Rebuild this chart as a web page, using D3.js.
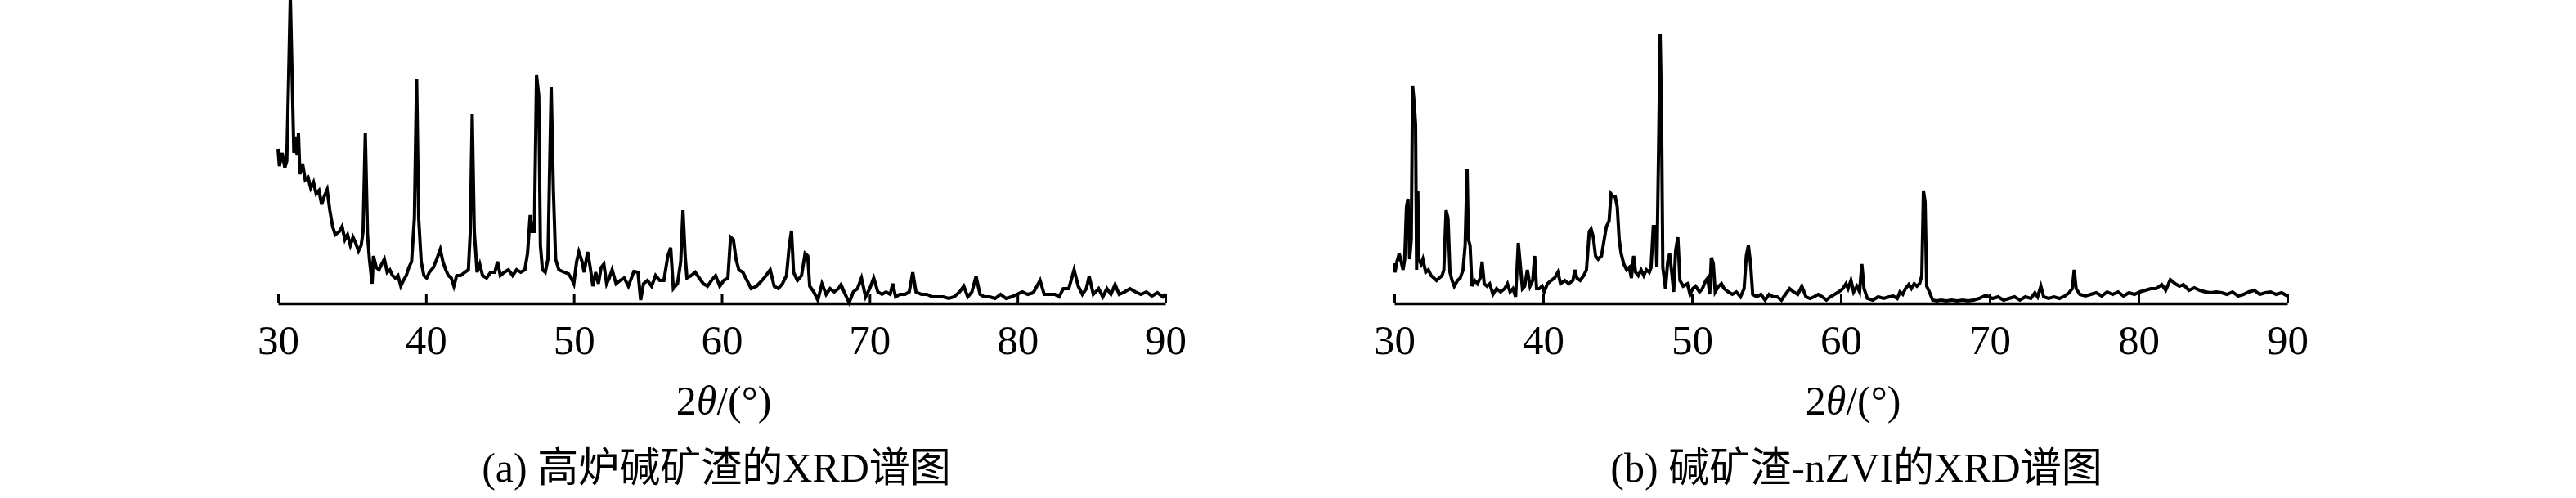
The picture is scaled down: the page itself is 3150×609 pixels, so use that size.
<!DOCTYPE html>
<html>
<head>
<meta charset="utf-8">
<script src="https://cdn.jsdelivr.net/npm/d3@7"></script>
<style>
body { margin: 0; background: #ffffff; }
svg text { font-family: "Liberation Serif", "Noto Sans CJK SC", serif; fill: #000; }
</style>
</head>
<body>
<svg id="chart" width="3150" height="609"></svg>
<script>
// x axis ticks (2theta, degrees)
var tickValues = [30, 40, 50, 60, 70, 80, 90];

// (a) blast furnace alkali slag: 2theta / intensity (a.u.)
var slagTheta = [30.00, 30.09, 30.28, 30.46, 30.59, 30.70, 30.83, 30.96, 31.07, 31.20, 31.29, 31.38, 31.48, 31.66, 31.84,
    32.03, 32.21, 32.40, 32.58, 32.77, 32.95, 33.13, 33.32, 33.50, 33.69, 33.87, 34.15, 34.33, 34.52, 34.70, 34.89,
    35.07, 35.25, 35.44, 35.62, 35.75, 35.90, 36.05, 36.18, 36.36, 36.45, 36.64, 36.82, 37.01, 37.19, 37.38, 37.56,
    37.74, 37.93, 38.11, 38.30, 38.48, 38.67, 38.85, 39.03, 39.22, 39.37, 39.51, 39.68, 39.86, 40.05, 40.23, 40.51,
    40.73, 40.97, 41.15, 41.34, 41.52, 41.71, 41.89, 42.08, 42.35, 42.63, 42.87, 43.00, 43.13, 43.27, 43.46, 43.64,
    43.83, 44.10, 44.38, 44.66, 44.84, 45.03, 45.30, 45.58, 45.86, 46.13, 46.41, 46.69, 46.87, 47.05, 47.18, 47.33,
    47.48, 47.63, 47.74, 47.88, 48.07, 48.25, 48.47, 48.62, 48.77, 48.99, 49.36,
    49.64, 49.82, 50.00, 50.19, 50.34, 50.56, 50.70, 50.93, 51.11, 51.29, 51.48, 51.66, 51.85, 52.03, 52.22, 52.40,
    52.59, 52.86, 53.14, 53.41, 53.69, 54.06, 54.34, 54.52, 54.71, 54.98, 55.26, 55.53, 55.81, 56.09, 56.36, 56.55,
    56.73, 57.01, 57.23, 57.38, 57.53, 57.65, 57.93, 58.21, 58.48, 58.76, 59.04, 59.31, 59.59, 59.87, 60.14, 60.42,
    60.60, 60.79, 60.97, 61.16, 61.43, 61.71, 61.99, 62.36, 62.73, 63.00, 63.28, 63.55, 63.83, 64.11, 64.38, 64.57,
    64.72, 64.86, 65.12, 65.40, 65.64, 65.82, 65.95, 66.23, 66.50, 66.78, 67.06, 67.33, 67.61, 67.89, 68.07, 68.35,
    68.62, 68.90, 69.18, 69.45, 69.73,
    70.01, 70.28, 70.56, 70.84, 71.11, 71.39, 71.57, 71.76, 72.04, 72.40, 72.68, 72.92, 73.14, 73.51, 73.88, 74.25,
    74.62, 74.99, 75.35, 75.72, 76.09, 76.37, 76.64, 76.92, 77.20, 77.47, 77.75, 78.12, 78.49, 78.86, 79.23, 79.59,
    79.96, 80.33, 80.70, 81.07, 81.53, 81.81, 82.18, 82.54, 82.82, 83.10, 83.47, 83.83, 84.11, 84.39, 84.66, 84.85,
    85.13, 85.49, 85.77, 86.05, 86.32, 86.60, 86.88, 87.25, 87.61, 87.98, 88.35, 88.72, 89.09, 89.46, 89.83, 90.00];
var slagIntensity = [189, 168, 184, 166, 174, 264, 375, 271, 184, 204, 181, 208, 158, 171, 151,
    154, 141, 148, 134, 138, 121, 131, 139, 114, 94, 84, 88, 94, 78, 84, 71,
    81, 74, 64, 71, 88, 208, 84, 54, 24, 58, 44, 41, 48, 54, 38, 41,
    34, 31, 34, 21, 28, 34, 44, 51, 104, 274, 104, 51, 34, 31, 38, 44,
    54, 66, 51, 41, 34, 31, 21, 34, 34, 38, 41, 88, 231, 88, 38, 48,
    34, 31, 38, 38, 51, 34, 38, 41, 34, 41, 38, 41, 61, 108, 88, 88,
    279, 254, 71, 41, 38, 54, 264, 138, 54, 41, 38,
    36, 31, 24, 51, 63, 51, 38, 63, 44, 21, 38, 24, 44, 48, 24, 31,
    41, 24, 28, 31, 21, 39, 38, 4, 24, 28, 21, 34, 28, 28, 58, 68,
    18, 24, 51, 114, 58, 31, 34, 38, 31, 24, 21, 28, 34, 21, 28, 31,
    81, 78, 54, 41, 38, 28, 18, 21, 28, 34, 41, 21, 18, 24, 34, 71,
    89, 38, 28, 34, 61, 58, 21, 14, 4, 24, 11, 18, 14, 18, 23, 11,
    1, 14, 18, 31, 8,
    18, 31, 14, 11, 14, 11, 24, 8, 11, 11, 14, 38, 14, 11, 11, 8,
    8, 8, 6, 8, 14, 21, 8, 14, 33, 11, 8, 8, 6, 11, 6, 8,
    11, 14, 11, 13, 28, 11, 11, 11, 8, 18, 18, 41, 21, 11, 18, 33,
    11, 18, 8, 18, 11, 23, 11, 14, 18, 14, 11, 14, 9, 13, 8, 11];

// (b) alkali slag-nZVI: 2theta / intensity (a.u.)
var nzviTheta = [30.00, 30.04, 30.18, 30.33, 30.46, 30.59, 30.70, 30.82, 30.92, 31.03, 31.14, 31.23, 31.34, 31.43, 31.50,
    31.58, 31.65, 31.80, 31.92, 32.11, 32.29, 32.47, 32.66, 32.84, 33.02, 33.21, 33.33, 33.48, 33.61, 33.74, 33.88,
    34.03, 34.25, 34.43, 34.62, 34.76, 34.89, 34.98, 35.09, 35.22, 35.40, 35.59, 35.77, 35.90, 36.04, 36.23, 36.41,
    36.63, 36.87, 37.14, 37.42, 37.60, 37.78, 37.97, 38.15, 38.33, 38.46, 38.61, 38.76, 38.94, 39.12, 39.30, 39.43,
    39.56, 39.74, 39.93, 40.07, 40.29, 40.53, 40.77, 40.99, 41.17, 41.45, 41.72, 42.00, 42.13, 42.27, 42.49, 42.73,
    42.91, 43.10, 43.22, 43.37, 43.52, 43.70, 43.92, 44.10, 44.25, 44.43, 44.56, 44.69, 44.84, 44.98, 45.11, 45.24,
    45.42, 45.61, 45.79, 45.93, 46.08, 46.21, 46.39, 46.58, 46.76, 46.94, 47.13, 47.25, 47.40, 47.55, 47.64, 47.77,
    47.86, 47.95, 48.04, 48.22, 48.37, 48.50, 48.64, 48.77, 48.90, 49.05, 49.19, 49.41,
    49.69, 49.87, 50.05, 50.24, 50.51, 50.70, 50.93, 51.06, 51.19, 51.30, 51.43, 51.56, 51.79, 51.98, 52.16, 52.44,
    52.71, 52.98, 53.26, 53.50, 53.65, 53.79, 53.94, 54.08, 54.36, 54.63, 54.91, 55.18, 55.46, 55.73, 56.01, 56.28,
    56.56, 56.83, 57.11, 57.38, 57.66, 57.93, 58.20, 58.48, 58.75, 59.03, 59.30, 59.58, 59.85, 60.13, 60.35, 60.49,
    60.68, 60.86, 61.08, 61.26, 61.41, 61.56, 61.78, 62.14, 62.51, 62.87, 63.24, 63.52, 63.79, 63.97, 64.16, 64.34,
    64.56, 64.74, 64.93, 65.11, 65.29, 65.44, 65.55, 65.66, 65.77, 65.95, 66.17, 66.45, 66.72, 67.09, 67.45, 67.82,
    68.19, 68.55, 68.92, 69.28, 69.65,
    69.84, 70.20, 70.57, 70.93, 71.30, 71.67, 72.03, 72.40, 72.77, 73.04, 73.22, 73.44, 73.63, 73.96, 74.32, 74.69,
    75.05, 75.33, 75.55, 75.68, 75.81, 76.06, 76.43, 76.79, 77.16, 77.53, 77.89, 78.26, 78.63, 78.99, 79.36, 79.73,
    80.09, 80.46, 80.82, 81.19, 81.56, 81.83, 82.14, 82.47, 82.75, 83.02, 83.39, 83.75, 84.12, 84.49, 84.85, 85.22,
    85.59, 85.95, 86.32, 86.69, 87.05, 87.42, 87.78, 88.15, 88.52, 88.88, 89.25, 89.62, 90.00];
var nzviIntensity = [49, 38, 51, 61, 51, 41, 54, 118, 128, 54, 78, 266, 244, 218, 41,
    138, 54, 48, 54, 38, 41, 34, 31, 28, 31, 34, 41, 114, 104, 38, 28,
    21, 28, 31, 41, 71, 164, 78, 71, 21, 28, 24, 31, 51, 24, 21, 24,
    11, 18, 14, 18, 24, 14, 18, 8, 74, 48, 18, 21, 41, 21, 28, 58,
    18, 18, 21, 14, 24, 28, 31, 38, 24, 28, 24, 28, 41, 31, 28, 34,
    41, 88, 91, 81, 58, 54, 58, 78, 94, 101, 134, 131, 131, 118, 78, 61,
    48, 41, 44, 31, 58, 38, 34, 41, 34, 41, 38, 44, 94, 94, 44, 204,
    329, 238, 44, 18, 51, 61, 38, 14, 64, 81, 28, 21,
    24, 11, 18, 21, 14, 18, 28, 31, 11, 56, 49, 14, 21, 24, 18, 14,
    11, 14, 8, 18, 58, 71, 48, 11, 8, 11, 4, 11, 8, 8, 4, 11,
    18, 14, 11, 21, 8, 6, 8, 11, 8, 4, 8, 11, 14, 18, 24, 18,
    28, 14, 21, 14, 48, 18, 6, 4, 8, 6, 8, 9, 6, 14, 11, 18,
    23, 18, 24, 21, 24, 34, 138, 124, 21, 14, 4, 3, 4, 3, 4, 3,
    4, 3, 4, 6, 9,
    9, 6, 8, 4, 6, 8, 4, 8, 6, 13, 8, 21, 8, 6, 8, 6,
    9, 13, 18, 41, 18, 11, 9, 11, 13, 9, 14, 11, 14, 9, 13, 11,
    14, 16, 18, 18, 23, 16, 29, 24, 21, 23, 16, 19, 16, 14, 13, 14,
    13, 11, 14, 9, 11, 14, 16, 11, 13, 14, 11, 13, 9];

var captionA = "(a) 高炉碱矿渣的XRD谱图";
var captionB = "(b) 碱矿渣-nZVI的XRD谱图";

document.addEventListener('DOMContentLoaded', function () {
    var svg = d3.select("#chart");

    // panel boxes in page pixels
    drawPanel(svg, slagTheta, slagIntensity, { left: 340, right: 1425, labelX: 885, captionX: 876 }, captionA);
    drawPanel(svg, nzviTheta, nzviIntensity, { left: 1705, right: 2797, labelX: 2266, captionX: 2270 }, captionB);
});

function drawPanel(svg, theta, intensity, box, caption) {
    var axisY = 371;

    var x = d3.scaleLinear()
        .domain([30, 90])
        .range([box.left, box.right]);

    var y = d3.scaleLinear()
        .domain([0, 371])
        .range([axisY, 0]);

    var points = theta.map(function (t, i) { return [t, intensity[i]]; });

    var line = d3.line()
        .x(function (d) { return x(d[0]); })
        .y(function (d) { return y(d[1]); });

    // the XRD trace
    svg.append("path")
        .datum(points)
        .attr("d", line)
        .attr("fill", "none")
        .attr("stroke", "#000")
        .attr("stroke-width", 4)
        .attr("stroke-linejoin", "miter");

    // x axis, ticks pointing up into the plot
    var xAxis = d3.axisBottom(x)
        .tickValues(tickValues)
        .tickSizeInner(-11)
        .tickSizeOuter(0)
        .tickFormat(d3.format("d"));

    var g = svg.append("g")
        .attr("class", "axis x-axis")
        .attr("transform", "translate(0," + axisY + ")")
        .call(xAxis);

    g.select(".domain")
        .attr("stroke", "#000")
        .attr("stroke-width", 3.5);

    g.selectAll(".tick line")
        .attr("stroke", "#000")
        .attr("stroke-width", 3);

    g.selectAll(".tick text")
        .attr("y", 62)
        .attr("dy", 0)
        .style("font-family", '"Liberation Serif", serif')
        .style("font-size", "51px");

    // axis title 2θ/(°)
    var label = svg.append("text")
        .attr("class", "axis-label")
        .attr("x", box.labelX)
        .attr("y", 507)
        .attr("text-anchor", "middle")
        .style("font-size", "50px");
    label.append("tspan").text("2");
    label.append("tspan").style("font-style", "italic").text("θ");
    label.append("tspan").text("/(°)");

    // panel caption
    svg.append("text")
        .attr("class", "chart-caption")
        .attr("x", box.captionX)
        .attr("y", 589)
        .attr("text-anchor", "middle")
        .style("font-size", "50px")
        .text(caption);
}
</script>
</body>
</html>
